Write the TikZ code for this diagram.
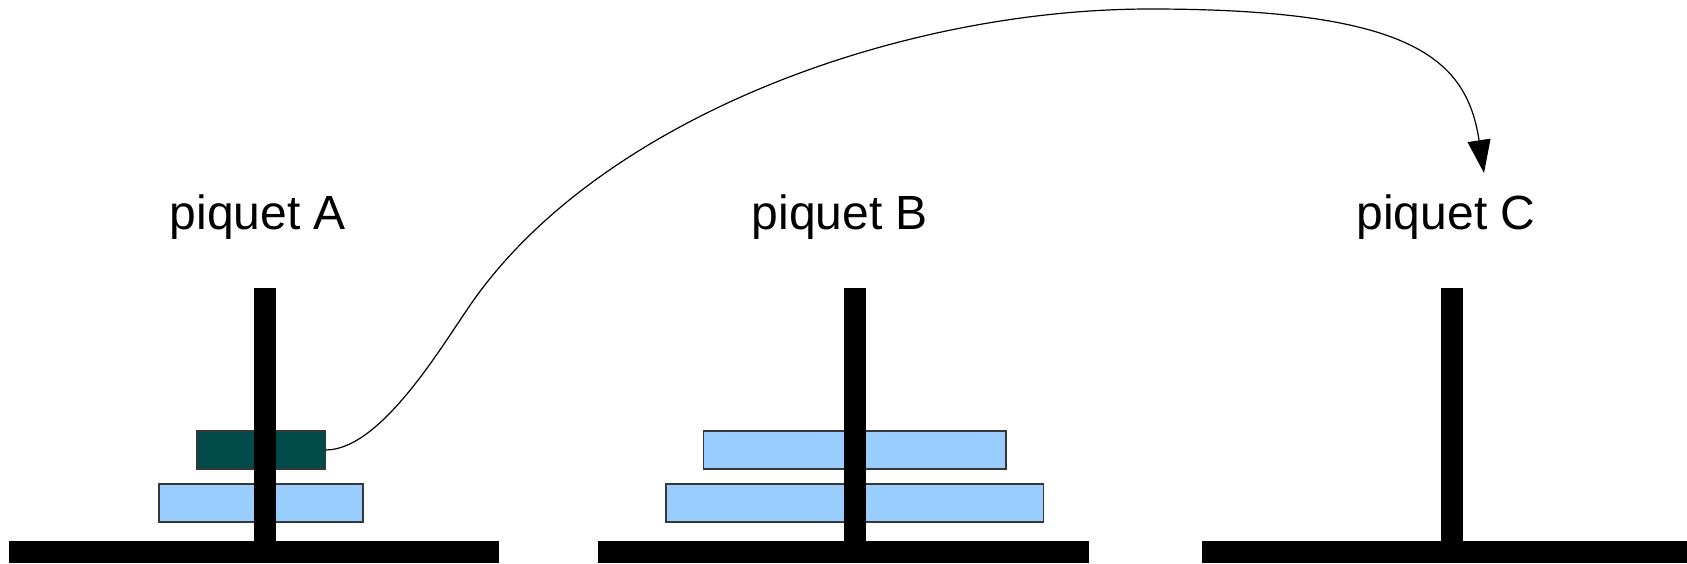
\documentclass[tikz,border=0pt]{standalone}
\usepackage{fontspec}
\setmainfont{Liberation Sans}
\usetikzlibrary{arrows.meta}
\definecolor{diskdark}{RGB}{0,74,74}
\definecolor{disklight}{RGB}{153,204,255}
\definecolor{diskedge}{RGB}{55,55,55}
\begin{document}
\begin{tikzpicture}[x=0.5pt,y=-0.5pt,
  disk/.style={draw=diskedge, line width=0.6pt, inner sep=0pt, outer sep=0pt, minimum height=19pt},
  smalldisk/.style={disk, fill=diskdark},
  bigdisk/.style={disk, fill=disklight},
  pegname/.style={font=\fontsize{24}{28}\selectfont, anchor=base, inner sep=0pt},
  move/.style={draw=black, line width=0.6pt, -{Triangle[length=16.5pt,width=11.5pt]}}]
\useasboundingbox (0,0) rectangle (1687,563);

% disks on peg A
\node[smalldisk, minimum width=64.25pt] (a1) at (261.25,450) {};
\node[bigdisk, minimum width=102pt] (a2) at (261,503) {};
% disks on peg B
\node[bigdisk, minimum width=151.25pt] (b1) at (854.75,450) {};
\node[bigdisk, minimum width=188.75pt] (b2) at (854.75,503) {};

% pegs and their bases
\fill (254,287.5) rectangle (276,541);
\fill (8.6,541) rectangle (499,563);
\fill (843.75,287.5) rectangle (865.75,541);
\fill (598,541) rectangle (1089,563);
\fill (1441,287.5) rectangle (1463,541);
\fill (1202,541) rectangle (1687,563);

% peg names
\node[pegname] (la) at (258,229) {piquet A};
\node[pegname] (lb) at (840,229) {piquet B};
\node[pegname] (lc) at (1446,229) {piquet C};

% the move of the top disk from A to C
\coordinate (bend) at (473,301);
\coordinate (peak) at (1150,9);
\coordinate (tipC) at (1484,173);
\draw[move] (a1.east) .. controls (382,450) and (444,342) .. (bend)
  .. controls (603,117) and (900,9) .. (peak)
  .. controls (1410,9) and (1466.5,57.5) .. (tipC);
\end{tikzpicture}
\end{document}
